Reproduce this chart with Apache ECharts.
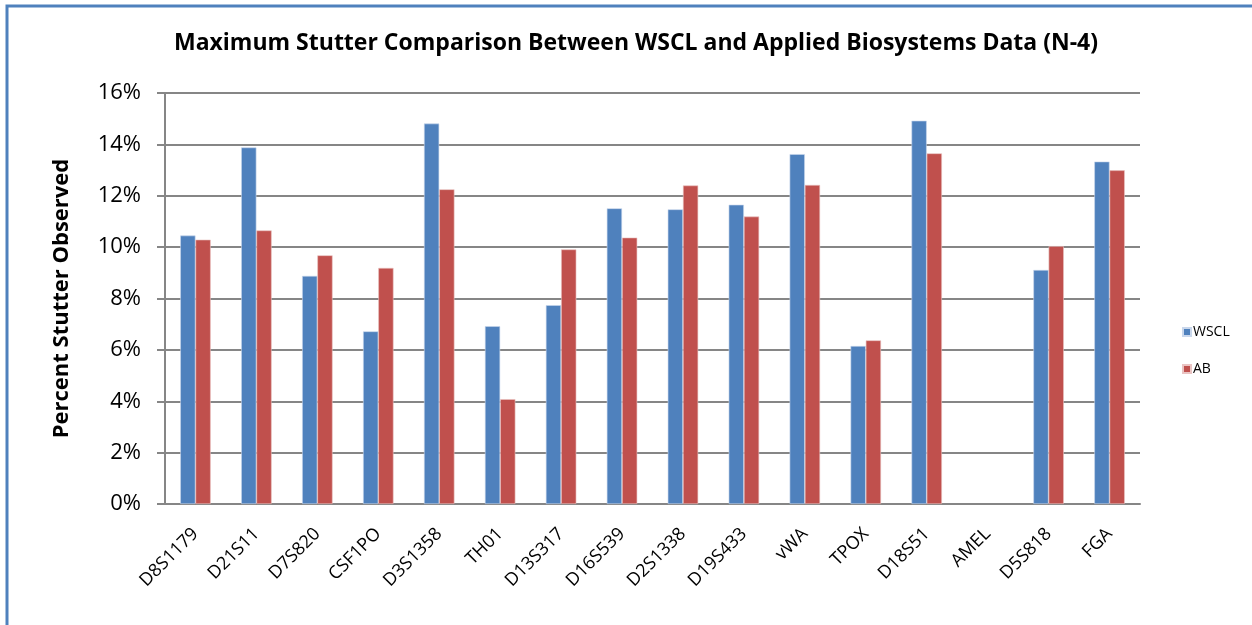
<!DOCTYPE html>
<html>
<head>
<meta charset="utf-8">
<script src="https://cdn.jsdelivr.net/npm/echarts@6/dist/echarts.min.js"></script>
<style>
  html, body { margin: 0; padding: 0; background: #fff; }
  #chart { width: 1252px; height: 625px; }
</style>
</head>
<body>
<div id="chart"></div>
<script>
// loci on the x axis
const loci = ['D8S1179', 'D21S11', 'D7S820', 'CSF1PO', 'D3S1358', 'TH01', 'D13S317', 'D16S539',
  'D2S1338', 'D19S433', 'vWA', 'TPOX', 'D18S51', 'AMEL', 'D5S818', 'FGA']

// max stutter (%), AMEL has no bars
const wscl = [10.45, 13.88, 8.88, 6.72, 14.81, 6.92, 7.74, 11.51, 11.47, 11.65, 13.62, 6.15, 14.92, null, 9.11, 13.33]
const ab = [10.29, 10.65, 9.68, 9.19, 12.25, 4.08, 9.91, 10.37, 12.40, 11.19, 12.42, 6.37, 13.65, null, 10.04, 12.99]

const yTicks = { min: 0, max: 16, interval: 2 }

const font = 'Open Sans'
const myChart = echarts.init(document.getElementById('chart'))

const option = {
  backgroundColor: '#fff',
  animation: false,
  title: {
    text: 'Maximum Stutter Comparison Between WSCL and Applied Biosystems Data (N-4)',
    left: 631,
    top: 27,
    textAlign: 'center',
    textStyle: { fontFamily: font, fontWeight: 'bold', fontSize: 23, color: '#000' }
  },
  graphic: [
    {
      type: 'rect',
      shape: { x: 7, y: 6, width: 1400, height: 800 },
      style: { fill: 'none', stroke: '#4f81bd', lineWidth: 3 },
      silent: true
    }
  ],
  legend: {
    orient: 'vertical',
    left: 1177,
    top: 320,
    itemWidth: 8,
    itemHeight: 8,
    itemGap: 23,
    icon: 'rect',
    textStyle: { fontFamily: font, fontSize: 14, color: '#000', padding: [0, 0, 0, -3] },
    data: ['WSCL', 'AB']
  },
  grid: {
    left: 165,
    right: 112,
    top: 93,
    bottom: 121
  },
  xAxis: {
    type: 'category',
    data: loci,
    axisLine: { lineStyle: { color: '#868686', width: 2 } },
    axisTick: { length: 8, lineStyle: { color: '#868686', width: 2 } },
    axisLabel: {
      rotate: 45,
      margin: 27,
      fontFamily: font,
      fontSize: 18,
      color: '#000',
      interval: 0
    }
  },
  yAxis: {
    type: 'value',
    min: yTicks.min,
    max: yTicks.max,
    interval: yTicks.interval,
    name: 'Percent Stutter Observed',
    nameLocation: 'middle',
    nameGap: 92,
    nameTextStyle: { fontFamily: font, fontWeight: 'bold', fontSize: 22, color: '#000' },
    axisLine: { show: true, lineStyle: { color: '#868686', width: 2 } },
    axisTick: { show: true, length: 8, lineStyle: { color: '#868686', width: 2 } },
    axisLabel: {
      formatter: '{value}%',
      margin: 24,
      fontFamily: font,
      fontSize: 22,
      color: '#000'
    },
    splitLine: { lineStyle: { color: '#868686', width: 2 } }
  },
  series: [
    {
      name: 'WSCL',
      type: 'bar',
      data: wscl,
      barGap: '0%',
      barCategoryGap: '50%',
      itemStyle: { color: '#4f81bd', borderColor: '#c9d7ec', borderWidth: 0.6 }
    },
    {
      name: 'AB',
      type: 'bar',
      data: ab,
      itemStyle: { color: '#c0504d', borderColor: '#eac4c3', borderWidth: 0.6 }
    }
  ]
}

myChart.setOption(option)
</script>
</body>
</html>
